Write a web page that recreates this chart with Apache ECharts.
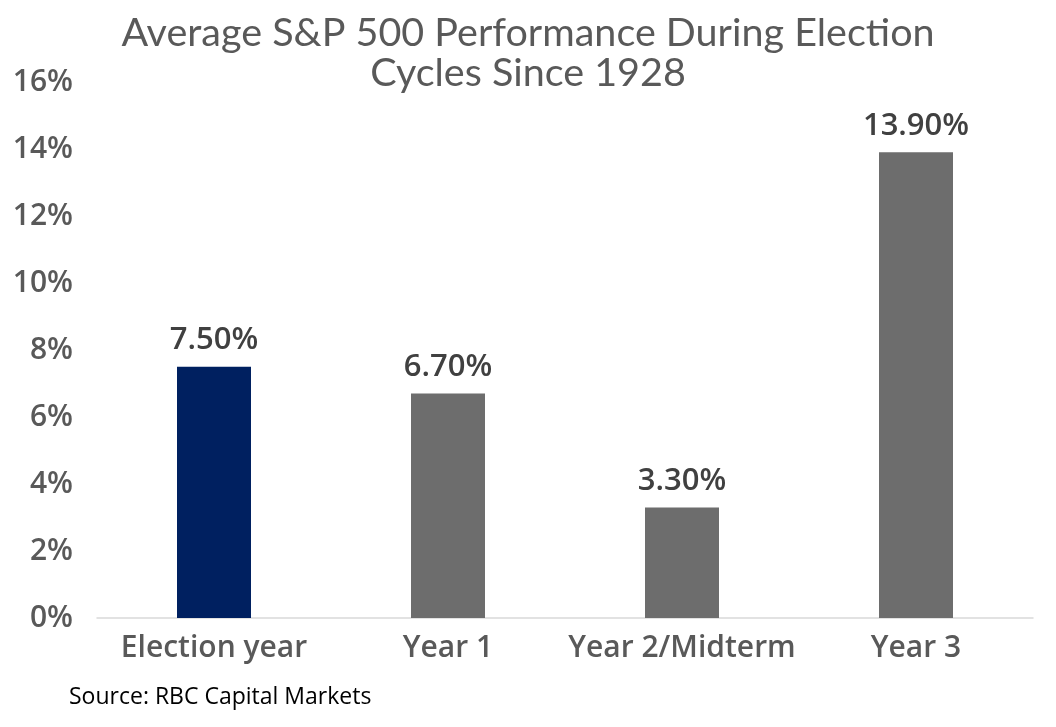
<!DOCTYPE html>
<html><head><meta charset="utf-8">
<script src="https://cdn.jsdelivr.net/npm/echarts@6/dist/echarts.min.js"></script>
<style>html,body{margin:0;padding:0;background:#fff}#c{width:1056px;height:727px}</style>
</head><body><div id="c"></div>
<script>
const categories = ['Election year', 'Year 1', 'Year 2/Midterm', 'Year 3'];
const values = [7.5, 6.7, 3.3, 13.9];
const barColors = ['#002060', '#6d6d6d', '#6d6d6d', '#6d6d6d'];
const yTicks = [0, 2, 4, 6, 8, 10, 12, 14, 16];
const titleText = 'Average S&P 500 Performance During Election\nCycles Since 1928';
const sourceText = 'Source: RBC Capital Markets';

const chart = echarts.init(document.getElementById('c'));
chart.setOption({
  animation: false,
  title: {
    text: titleText, left: 'center', top: 8,
    textStyle: { fontFamily: 'Lato', fontWeight: 'normal', fontSize: 39.5, lineHeight: 40, color: '#595959' }
  },
  graphic: [{ type: 'text', left: 69, top: 686, style: { text: sourceText, font: '23px "Open Sans"', fill: '#000' } }],
  grid: { left: 97, right: 23, top: 82, bottom: 109 },
  xAxis: {
    type: 'category', data: categories,
    axisLine: { lineStyle: { color: '#d9d9d9', width: 1.5 } },
    axisTick: { show: false },
    axisLabel: { interval: 0, fontFamily: 'Open Sans', fontWeight: 600, fontSize: 30, color: '#595959', margin: 15 }
  },
  yAxis: {
    type: 'value', min: yTicks[0], max: yTicks[yTicks.length - 1], interval: 2,
    splitLine: { show: false }, axisLine: { show: false }, axisTick: { show: false },
    axisLabel: { fontFamily: 'Open Sans', fontWeight: 600, fontSize: 30, color: '#595959', margin: 24, formatter: v => v + '%' }
  },
  series: [{
    type: 'bar', barWidth: 74,
    data: values.map((v, i) => ({ value: v, itemStyle: { color: barColors[i] } })),
    label: { show: true, position: 'top', distance: 11, fontFamily: 'Open Sans', fontWeight: 600, fontSize: 31, color: '#404040', formatter: p => p.value.toFixed(2) + '%' }
  }]
});
</script></body></html>
